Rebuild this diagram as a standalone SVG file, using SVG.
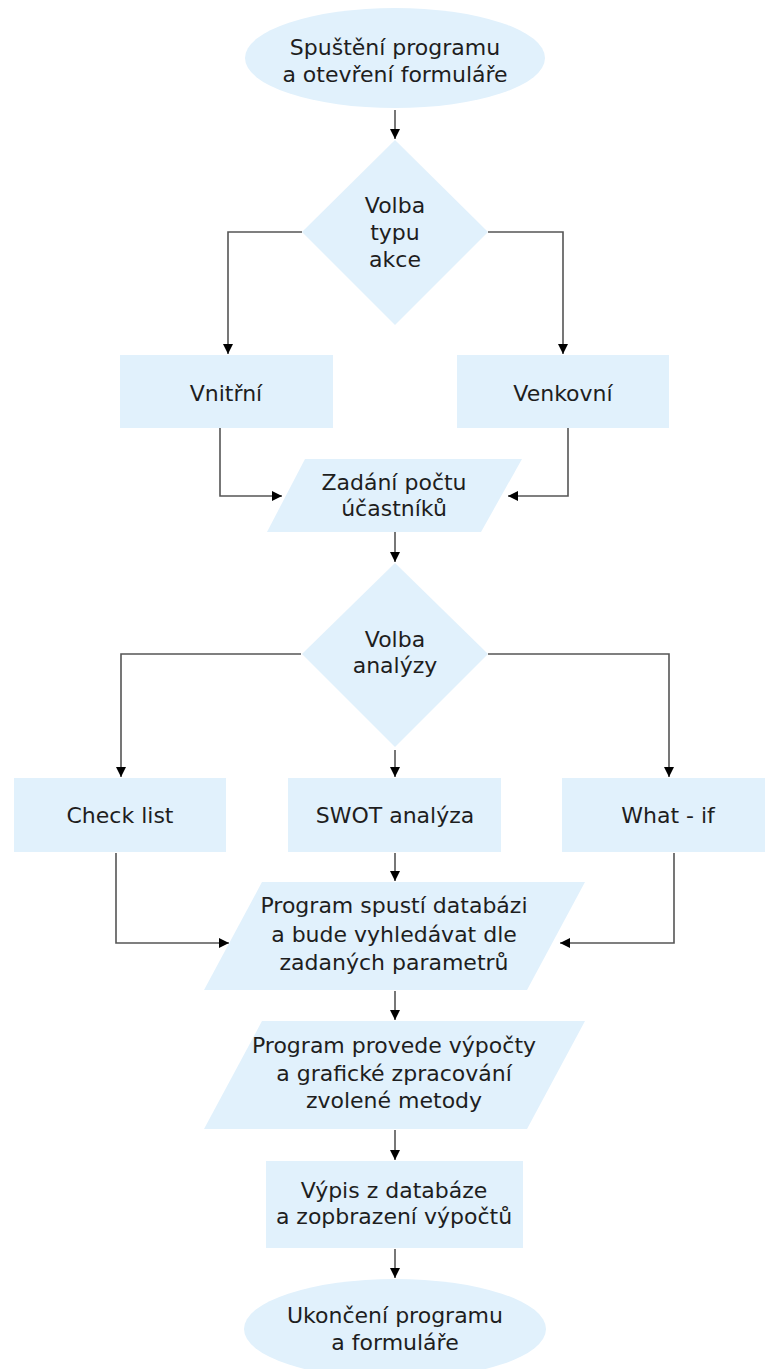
<svg xmlns="http://www.w3.org/2000/svg" width="765" height="1369" viewBox="0 0 765 1369">
<style>
.n{fill:#E1F1FC;stroke:none}
.t{font-family:"DejaVu Sans",sans-serif;font-size:22px;fill:#1e1e1e;text-anchor:middle}
.c{fill:none;stroke:#555;stroke-width:1.6;marker-end:url(#ah)}
</style>
<defs>
<marker id="ah" markerUnits="userSpaceOnUse" markerWidth="12" markerHeight="12" refX="10" refY="5" orient="auto">
<path d="M0,0 L10,5 L0,10 z" fill="#000"/>
</marker>
</defs>
<rect width="765" height="1369" fill="#fff"/>
<g id="connectors">
<path class="c" d="M395,110 V139"/>
<path class="c" d="M302,232 H228 V354"/>
<path class="c" d="M488,232 H563 V354"/>
<path class="c" d="M220,428 V496 H282"/>
<path class="c" d="M568,428 V496 H508"/>
<path class="c" d="M395,532 V562"/>
<path class="c" d="M301,654 H121 V777"/>
<path class="c" d="M488,654 H669 V777"/>
<path class="c" d="M395,750 V777"/>
<path class="c" d="M116,853 V943 H229"/>
<path class="c" d="M395,853 V881"/>
<path class="c" d="M674,853 V943 H560"/>
<path class="c" d="M395,991 V1020"/>
<path class="c" d="M395,1130 V1160"/>
<path class="c" d="M395,1249 V1278"/>
</g>
<g id="start">
<ellipse class="n" cx="395" cy="58" rx="150" ry="50"/>
<text class="t" x="395" y="55">Spuštění programu</text>
<text class="t" x="395" y="82">a otevření formuláře</text>
</g>
<g id="decision1">
<polygon class="n" points="395,140 488,232 395,325 302,232"/>
<text class="t" x="395" y="213">Volba</text>
<text class="t" x="395" y="240">typu</text>
<text class="t" x="395" y="267">akce</text>
</g>
<g id="vnitrni">
<rect class="n" x="120" y="355" width="213" height="73"/>
<text class="t" x="226" y="401">Vnitřní</text>
</g>
<g id="venkovni">
<rect class="n" x="457" y="355" width="212" height="73"/>
<text class="t" x="563" y="401">Venkovní</text>
</g>
<g id="zadani">
<polygon class="n" points="305,459 522,459 481,532 267,532"/>
<text class="t" x="394" y="490">Zadání počtu</text>
<text class="t" x="394" y="516">účastníků</text>
</g>
<g id="decision2">
<polygon class="n" points="395,563 488,654 395,747 302,654"/>
<text class="t" x="395" y="647">Volba</text>
<text class="t" x="395" y="673">analýzy</text>
</g>
<g id="checklist">
<rect class="n" x="14" y="778" width="212" height="74"/>
<text class="t" x="120" y="823">Check list</text>
</g>
<g id="swot">
<rect class="n" x="288" y="778" width="213" height="74"/>
<text class="t" x="395" y="823">SWOT analýza</text>
</g>
<g id="whatif">
<rect class="n" x="562" y="778" width="203" height="74"/>
<text class="t" x="668" y="823">What - if</text>
</g>
<g id="databaze">
<polygon class="n" points="262,882 585,882 527,990 204,990"/>
<text class="t" x="394" y="913">Program spustí databázi</text>
<text class="t" x="394" y="942">a bude vyhledávat dle</text>
<text class="t" x="394" y="970">zadaných parametrů</text>
</g>
<g id="vypocty">
<polygon class="n" points="262,1021 585,1021 527,1129 204,1129"/>
<text class="t" x="394" y="1053">Program provede výpočty</text>
<text class="t" x="394" y="1081">a grafické zpracování</text>
<text class="t" x="394" y="1108">zvolené metody</text>
</g>
<g id="vypis">
<rect class="n" x="266" y="1161" width="257" height="87"/>
<text class="t" x="394" y="1198">Výpis z databáze</text>
<text class="t" x="394" y="1224">a zopbrazení výpočtů</text>
</g>
<g id="end">
<ellipse class="n" cx="395" cy="1329" rx="151" ry="50"/>
<text class="t" x="395" y="1323">Ukončení programu</text>
<text class="t" x="395" y="1350">a formuláře</text>
</g>
</svg>
